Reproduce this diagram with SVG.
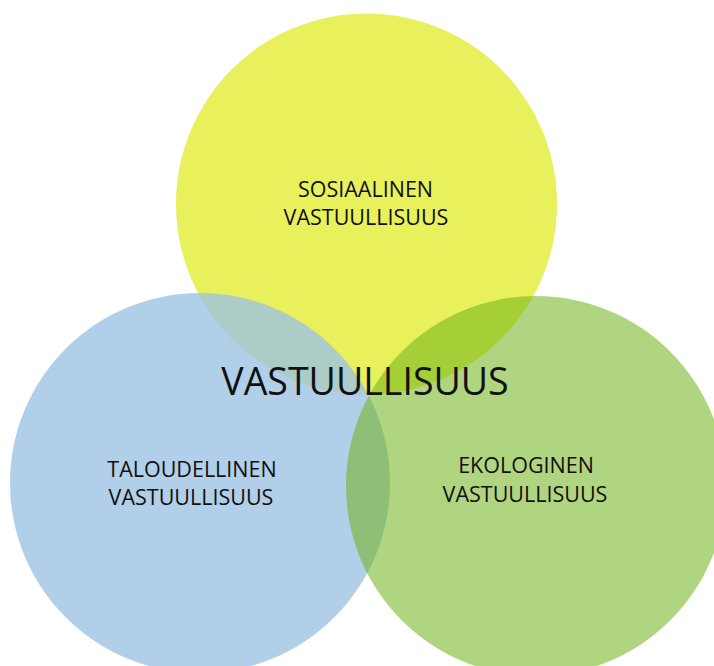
<svg xmlns="http://www.w3.org/2000/svg" width="714" height="666" viewBox="0 0 714 666">
<style>
.lbl{font-family:"Open Sans","Liberation Sans",sans-serif;fill:#111;text-anchor:middle}
.s{font-size:21.5px}
.b{font-size:37.5px}
</style>
<rect width="714" height="666" fill="#fff"/>
<g id="sosiaalinen">
<circle cx="366.5" cy="204" r="190.5" fill="#E8F05C"/>
</g>
<g id="taloudellinen">
<circle cx="200" cy="483" r="190" fill="#9EC3E2" fill-opacity="0.8"/>
</g>
<g id="ekologinen">
<circle cx="536" cy="486" r="190" fill="#6FB318" fill-opacity="0.55"/>
</g>
<g id="labels">
<text class="lbl s" x="365.5" y="197">SOSIAALINEN</text>
<text class="lbl s" x="366" y="225">VASTUULLISUUS</text>
<text class="lbl s" x="192" y="477">TALOUDELLINEN</text>
<text class="lbl s" x="191" y="505">VASTUULLISUUS</text>
<text class="lbl s" x="526" y="473">EKOLOGINEN</text>
<text class="lbl s" x="525" y="502">VASTUULLISUUS</text>
<text class="lbl b" x="365" y="395">VASTUULLISUUS</text>
</g>
</svg>
